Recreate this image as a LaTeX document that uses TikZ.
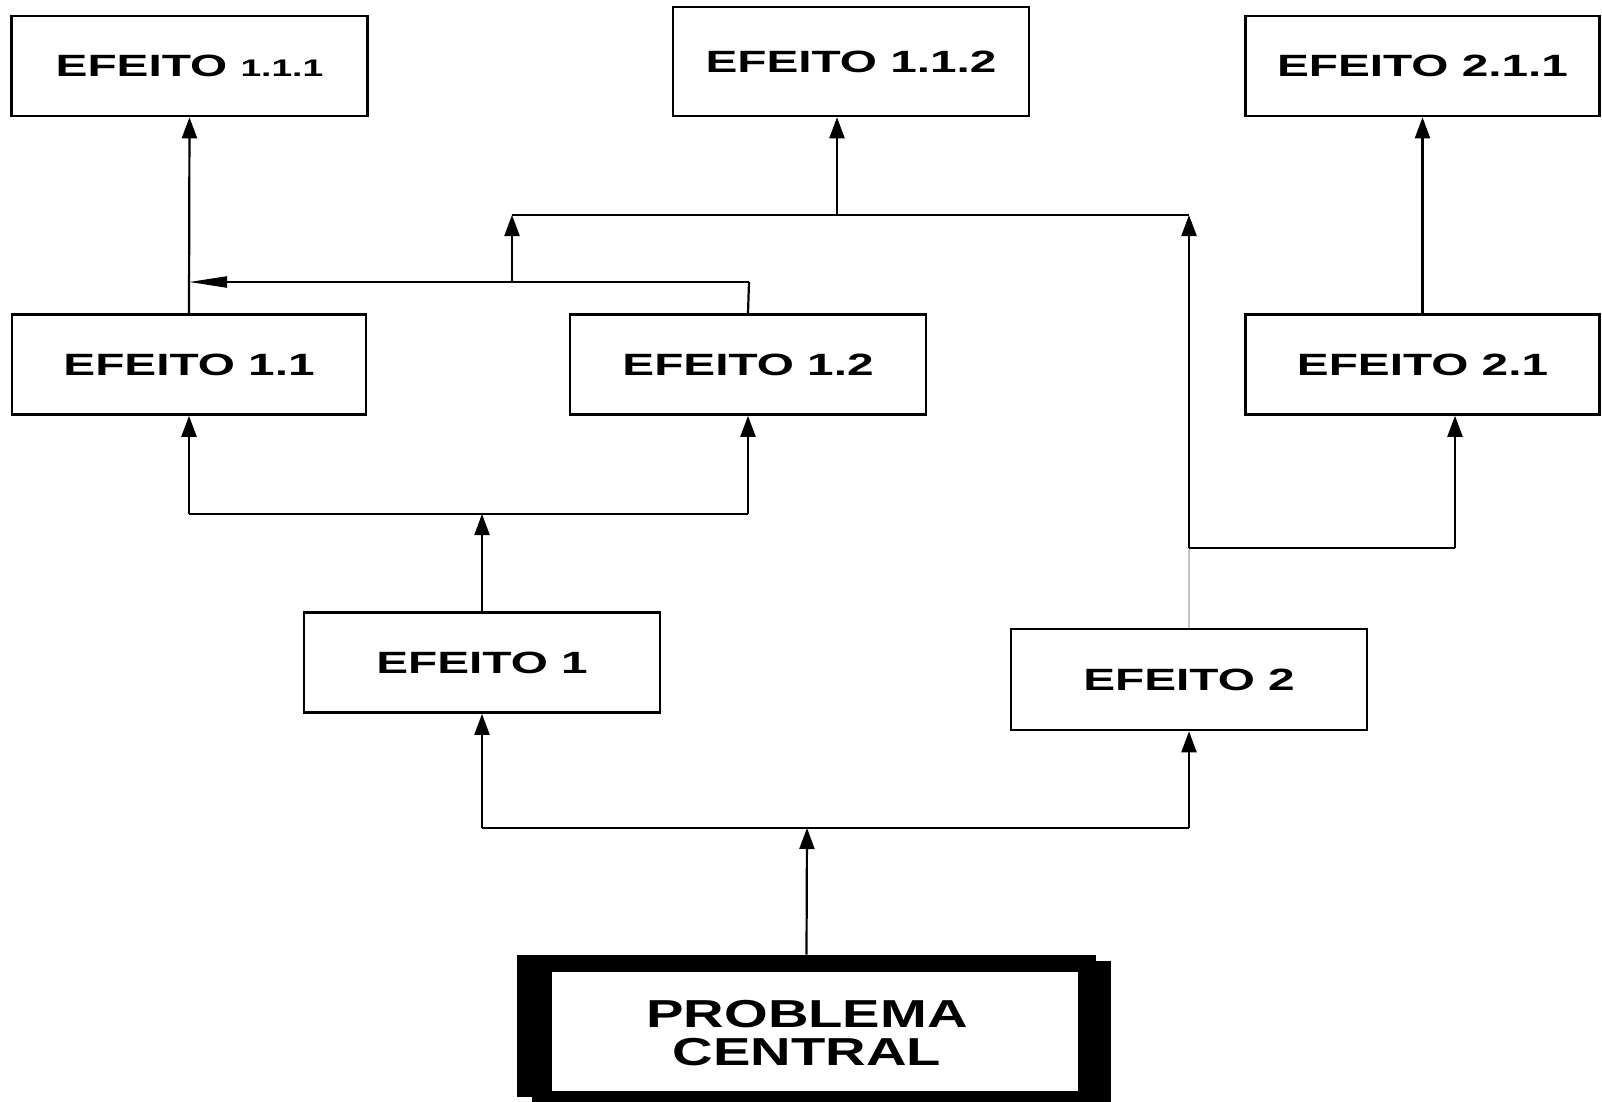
\documentclass[tikz,border=0pt]{standalone}
\usepackage{fontspec}
\setmainfont{Liberation Sans}
\newfontfamily\boxfont{Liberation Sans Bold}[FakeStretch=1.55]
\newfontfamily\probfont{Liberation Sans Bold}[FakeStretch=1.44]
\usetikzlibrary{arrows.meta}

\begin{document}
\begin{tikzpicture}[x=0.5pt,y=-0.5pt,
  box/.style={draw, line width=1.3pt, inner sep=0pt, minimum width=178pt,
    minimum height=50pt, font=\boxfont\fontsize{15.4}{18}\selectfont},
  link/.style={line width=1.1pt},
  up/.style={link, -{Triangle[length=10.5pt,width=7.5pt]}},
  leftarrow/.style={link, -{Triangle[length=19pt,width=5.5pt]}}]

\useasboundingbox (0,0) rectangle (1602,1102);

% effect boxes
\node[box] (e111) at (189.5,66) {EFEITO {\fontsize{12}{14}\selectfont 1.1.1}};
\node[box, minimum height=54.5pt] (e112) at (851,61.5) {EFEITO 1.1.2};
\node[box, minimum width=177pt] (e211) at (1422.5,66) {\raisebox{-2pt}{EFEITO 2.1.1}};
\node[box, minimum width=177pt] (e11) at (189,364.5) {EFEITO 1.1};
\node[box] (e12) at (748,364.5) {EFEITO 1.2};
\node[box, minimum width=177pt] (e21) at (1422.5,364.5) {EFEITO 2.1};
\node[box] (e1) at (482,662.5) {EFEITO 1};
\node[box, minimum height=50.5pt] (e2) at (1189,679.5) {EFEITO 2};

% central problem: heavy frame with offset shadow
\fill (517,955) rectangle (1096,1097);
\fill (532,961) rectangle (1111,1102);
\fill[white] (552,972) rectangle (1078,1091);
\node[minimum width=289.5pt, minimum height=71pt, inner sep=0pt] (prob) at (806.5,1026) {};
\node[font=\probfont\fontsize{19.5}{19}\selectfont, align=center] (probtext) at (807,1033)
  {PROBLEMA\\CENTRAL};

% problem -> effects 1 and 2
\coordinate (bbus) at (807,828);
\coordinate (bl) at (482,828);
\coordinate (br) at (1189,828);
\draw[up] (prob.north) -- (bbus);
\draw[link] (bl) -- (br);
\draw[up] (bl) -- (e1.south);
\draw[up] (br) -- (e2.south);

% effect 1 -> 1.1 and 1.2
\coordinate (b1) at (482,514);
\draw[up] (e1.north) -- (b1);
\draw[link] (e11.south |- b1) -- (e12.south |- b1);
\draw[up] (e11.south |- b1) -- (e11.south);
\draw[up] (e12.south |- b1) -- (e12.south);

% effect 2 -> 2.1 and upper bus
\coordinate (b2) at (1189,548);
\coordinate (b2r) at (1455,548);
\coordinate (tb) at (1189,215);
\draw[link, gray!45] (e2.north) -- (b2);
\draw[up] (b2) -- (tb);
\draw[link] (b2) -- (b2r);
\draw[up] (b2r) -- (b2r |- e21.south);

% upper bus -> effect 1.1.2
\coordinate (tl) at (512,215);
\coordinate (tm) at (837,215);
\draw[link] (tl) -- (tb);
\draw[up] (tm) -- (tm |- e112.south);

% effect 1.2 -> left bus
\coordinate (lb) at (749,282);
\coordinate (lbm) at (512,282);
\draw[link] (e12.north) -- (lb);
\draw[leftarrow] (lb) -- (e11.north |- lb);
\draw[up] (lbm) -- (tl);

% vertical links to the top row
\draw[up] (e11.north) -- (e111.south);
\draw[up] (e21.north) -- (e211.south);
\end{tikzpicture}
\end{document}
